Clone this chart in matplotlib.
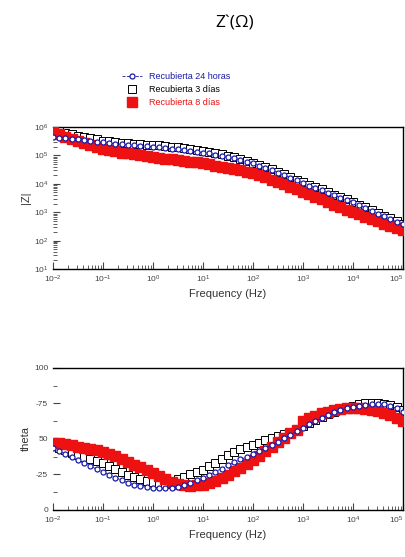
import matplotlib
matplotlib.use('Agg')
import matplotlib.pyplot as plt
import numpy as np

plt.rcParams['font.family'] = ['Liberation Sans', 'DejaVu Sans']

# frequency sweep (Hz), log spaced as in the measurement
freq = np.logspace(-2, 5, 57)

# log10 |Z|
logz_24h = [5.65, 5.63, 5.61, 5.58, 5.56, 5.53, 5.51, 5.48, 5.46, 5.44, 5.41, 5.39,
            5.37, 5.35, 5.34, 5.32, 5.30, 5.28, 5.26, 5.23, 5.21, 5.18, 5.15, 5.13,
            5.10, 5.07, 5.03, 4.99, 4.95, 4.90, 4.85, 4.78, 4.72, 4.64, 4.56, 4.48,
            4.39, 4.30, 4.21, 4.12, 4.03, 3.94, 3.86, 3.77, 3.68, 3.60, 3.51, 3.43,
            3.35, 3.25, 3.15, 3.05, 2.95, 2.85, 2.75, 2.66, 2.57]
logz_3d = [5.98, 5.88, 5.80, 5.75, 5.70, 5.65, 5.60, 5.56, 5.52, 5.49, 5.47, 5.45,
           5.43, 5.41, 5.40, 5.38, 5.37, 5.35, 5.33, 5.30, 5.28, 5.25, 5.22, 5.19,
           5.16, 5.12, 5.08, 5.04, 4.99, 4.94, 4.88, 4.82, 4.75, 4.67, 4.59, 4.51,
           4.42, 4.33, 4.24, 4.15, 4.06, 3.97, 3.89, 3.80, 3.71, 3.62, 3.54, 3.45,
           3.37, 3.27, 3.18, 3.08, 2.98, 2.88, 2.78, 2.69, 2.60]
logz_8d = [5.82, 5.74, 5.66, 5.58, 5.50, 5.43, 5.36, 5.29, 5.22, 5.18, 5.14, 5.10,
           5.07, 5.04, 5.00, 4.97, 4.94, 4.92, 4.89, 4.86, 4.84, 4.81, 4.78, 4.76,
           4.73, 4.69, 4.64, 4.60, 4.56, 4.52, 4.48, 4.43, 4.38, 4.31, 4.23, 4.15,
           4.07, 3.99, 3.90, 3.81, 3.72, 3.63, 3.54, 3.45, 3.36, 3.27, 3.18, 3.09,
           3.00, 2.92, 2.84, 2.76, 2.68, 2.60, 2.52, 2.44, 2.37]

# phase angle
theta_24h = [43.7, 41.5, 39.3, 37.1, 35.0, 32.9, 30.8, 28.8, 26.8, 24.8, 22.8, 20.9,
             19.2, 17.8, 16.7, 16.0, 15.5, 15.3, 15.3, 15.6, 16.5, 17.6, 19.0, 20.8,
             22.8, 24.8, 27.0, 29.2, 31.4, 33.6, 35.6, 37.4, 39.2, 41.4, 43.6, 45.8,
             48.0, 50.4, 52.8, 55.3, 57.7, 60.2, 62.6, 64.9, 67.0, 68.8, 70.3, 71.5,
             72.5, 73.3, 74.0, 74.4, 74.6, 74.3, 73.3, 71.5, 69.0]
theta_3d = [45.0, 43.5, 42.0, 40.3, 38.7, 37.3, 36.0, 34.5, 33.0, 31.0, 29.0, 26.8,
            24.6, 23.0, 21.5, 20.5, 19.7, 19.0, 18.5, 19.8, 21.5, 23.2, 25.0, 26.8,
            28.5, 30.8, 33.0, 36.0, 39.0, 41.0, 43.0, 44.5, 46.0, 47.5, 49.0, 50.5,
            52.0, 53.5, 55.0, 57.0, 59.0, 61.2, 63.5, 65.5, 67.5, 69.3, 71.0, 72.3,
            73.5, 74.3, 75.0, 75.3, 75.5, 74.9, 74.0, 72.3, 70.5]
theta_8d = [47.5, 47.0, 46.3, 45.5, 44.6, 43.8, 42.9, 42.0, 41.0, 39.5, 37.8, 36.0,
            34.0, 32.0, 30.0, 28.0, 26.0, 23.8, 21.6, 19.8, 18.5, 17.6, 17.2, 17.3,
            17.8, 18.8, 20.4, 22.5, 24.8, 27.2, 29.7, 32.3, 35.0, 38.0, 41.2, 44.6,
            48.0, 51.0, 54.0, 56.5, 63.0, 64.8, 66.5, 68.0, 69.3, 70.3, 71.0, 71.5,
            71.8, 71.8, 71.4, 70.7, 69.7, 68.3, 66.6, 64.8, 63.0]

theta_ticks = [0, 25, 50, 75, 100]
theta_labels = ['0', '-25', '50', '-75', '100']

labels = ['Recubierta 24 horas', 'Recubierta 3 días', 'Recubierta 8 días']
c_blue = '#1a1aa8'
c_red = '#ee1111'

fig = plt.figure(figsize=(4.06, 5.57), dpi=100)
ax1 = fig.add_axes([0.1305, 0.517, 0.862, 0.255])
ax2 = fig.add_axes([0.1305, 0.0844, 0.862, 0.255])

fig.text(0.578, 0.958, 'Z`(Ω)', ha='center', va='center', fontsize=12.5,
         family=['Open Sans', 'DejaVu Sans'])


def draw(ax, y_24, y_3, y_8):
    ax.plot(freq, y_3, 's', ms=5.5, mfc='white', mec='black', mew=0.7,
            label=labels[1], zorder=2)
    ax.plot(freq, y_8, 's', ms=6.5, color=c_red, mec=c_red, label=labels[2], zorder=3)
    ax.plot(freq, y_24, '--o', ms=3.6, mfc='white', mec=c_blue, mew=0.9, color=c_blue,
            lw=0.6, label=labels[0], zorder=4)
    ax.set_xscale('log')
    ax.set_xlim(1e-2, 1e5)
    ax.spines['left'].set_visible(False)
    for s in ['top', 'right', 'bottom']:
        ax.spines[s].set_linewidth(1.0)
    ax.tick_params(which='both', direction='in', labelsize=6, colors='#444444',
                   top=False, right=False)
    ax.tick_params(which='major', length=5)
    ax.tick_params(which='minor', length=3)
    ax.set_xticks([10.0 ** k for k in range(-2, 6)])
    ax.set_xlabel('Frequency (Hz)', fontsize=8, color='#333333', labelpad=3)
    fig.canvas.draw()
    ax.get_xticklabels()[-1].set_horizontalalignment('right')


draw(ax1, 10 ** np.array(logz_24h), 10 ** np.array(logz_3d), 10 ** np.array(logz_8d))
ax1.set_yscale('log')
ax1.set_ylim(10, 1e6)
ax1.set_yticks([10.0 ** k for k in range(1, 7)])
ax1.set_ylabel('|Z|', fontsize=8, color='#333333', labelpad=2)

draw(ax2, theta_24h, theta_3d, theta_8d)
ax2.set_ylim(0, 100)
ax2.set_yticks(theta_ticks)
ax2.set_yticklabels(theta_labels)
ax2.set_yticks([12.5, 37.5, 62.5, 87.5], minor=True)
ax2.set_ylabel('theta', fontsize=8, color='#333333', labelpad=2)

h, l = ax1.get_legend_handles_labels()
order = [2, 0, 1]
leg = fig.legend([h[i] for i in order], [l[i] for i in order], loc='upper left',
                 bbox_to_anchor=(0.28, 0.885), frameon=False, fontsize=6.5,
                 handlelength=2.2, handletextpad=0.8, labelspacing=0.45)
for txt, col in zip(leg.get_texts(), [c_blue, 'black', c_red]):
    txt.set_color(col)

fig.savefig('out.png', dpi=100)
